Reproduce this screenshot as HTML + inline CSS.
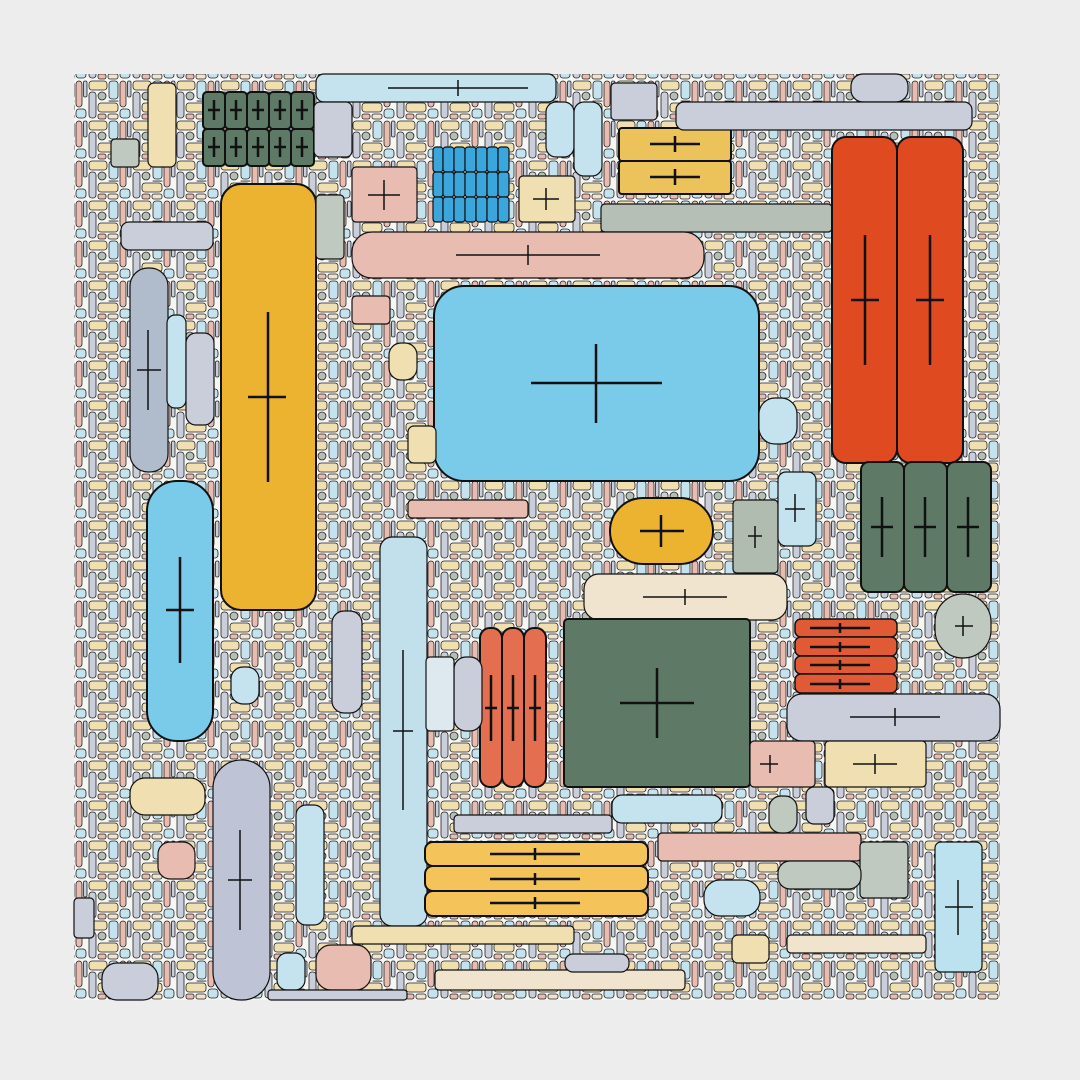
<!DOCTYPE html>
<html><head><style>html,body{margin:0;padding:0;background:#ededed}svg{display:block}</style></head><body>
<svg width="1080" height="1080" viewBox="0 0 1080 1080" xmlns="http://www.w3.org/2000/svg">
<defs>
<pattern id="p" width="44" height="40" patternUnits="userSpaceOnUse">
<rect width="44" height="40" fill="#f6f6f4"/>
<g stroke="#222" stroke-width="0.8">
<rect x="1" y="1" width="18" height="9" rx="3" fill="#f0dfb0"/>
<rect x="21" y="1" width="9" height="18" rx="3" fill="#c5e3ee"/>
<rect x="32" y="1" width="6" height="26" rx="3" fill="#e8bcb0"/>
<rect x="39.5" y="1" width="3.5" height="16" rx="1.5" fill="#c9ceda"/>
<rect x="1" y="12" width="7" height="26" rx="3" fill="#c9ceda"/>
<rect x="10" y="12" width="8" height="8" rx="4" fill="#b5bfb5"/>
<rect x="10" y="23" width="20" height="9" rx="3" fill="#f0dfb0"/>
<rect x="21" y="21" width="9" height="0.1" fill="none"/>
<rect x="32" y="29" width="10" height="9" rx="3" fill="#c5e3ee"/>
<rect x="10" y="34" width="8" height="5" rx="2" fill="#e8bcb0"/>
<rect x="20" y="34" width="10" height="5" rx="2" fill="#f1e4cf"/>
</g>
</pattern>
</defs>
<rect x="74" y="74" width="926" height="926" fill="url(#p)"/>
<g stroke="#111" stroke-width="2">
<g fill="#5e7a66">
<rect x="203" y="92" width="22" height="37" rx="4"/><rect x="225" y="92" width="22" height="37" rx="4"/><rect x="247" y="92" width="22" height="37" rx="4"/><rect x="269" y="92" width="22" height="37" rx="4"/><rect x="291" y="92" width="23" height="37" rx="4"/>
<rect x="203" y="129" width="22" height="37" rx="4"/><rect x="225" y="129" width="22" height="37" rx="4"/><rect x="247" y="129" width="22" height="37" rx="4"/><rect x="269" y="129" width="22" height="37" rx="4"/><rect x="291" y="129" width="23" height="37" rx="4"/>
</g>
<rect x="316" y="74" width="240" height="28" rx="8" fill="#c5e3ee" stroke-width="1.2"/>
<g fill="#3aa6dc" stroke-width="1.2">
<rect x="433" y="147" width="10" height="25" rx="3"/><rect x="443" y="147" width="11" height="25" rx="3"/><rect x="454" y="147" width="11" height="25" rx="3"/><rect x="465" y="147" width="11" height="25" rx="3"/><rect x="476" y="147" width="11" height="25" rx="3"/><rect x="487" y="147" width="11" height="25" rx="3"/><rect x="498" y="147" width="11" height="25" rx="3"/>
<rect x="433" y="172" width="10" height="25" rx="3"/><rect x="443" y="172" width="11" height="25" rx="3"/><rect x="454" y="172" width="11" height="25" rx="3"/><rect x="465" y="172" width="11" height="25" rx="3"/><rect x="476" y="172" width="11" height="25" rx="3"/><rect x="487" y="172" width="11" height="25" rx="3"/><rect x="498" y="172" width="11" height="25" rx="3"/>
<rect x="433" y="197" width="10" height="25" rx="3"/><rect x="443" y="197" width="11" height="25" rx="3"/><rect x="454" y="197" width="11" height="25" rx="3"/><rect x="465" y="197" width="11" height="25" rx="3"/><rect x="476" y="197" width="11" height="25" rx="3"/><rect x="487" y="197" width="11" height="25" rx="3"/><rect x="498" y="197" width="11" height="25" rx="3"/>
</g>
<rect x="619" y="128" width="112" height="33" rx="3" fill="#ecc35a"/>
<rect x="619" y="161" width="112" height="33" rx="3" fill="#ecc35a"/>
<rect x="352" y="167" width="65" height="55" rx="4" fill="#e8bcb0" stroke-width="1.2"/>
<rect x="519" y="176" width="56" height="46" rx="4" fill="#f0dfb0" stroke-width="1.2"/>
<rect x="601" y="204" width="231" height="28" rx="4" fill="#b5bfb5" stroke-width="1.2"/>
<rect x="352" y="232" width="352" height="46" rx="20" fill="#e8bcb0" stroke-width="1.2"/>
<rect x="434" y="286" width="325" height="195" rx="30" fill="#7acbe9"/>
<rect x="221" y="184" width="95" height="426" rx="20" fill="#ecb330"/>
<rect x="130" y="268" width="38" height="204" rx="18" fill="#b0bccb" stroke-width="1.2"/>
<rect x="167" y="315" width="19" height="93" rx="8" fill="#c5e3ee" stroke-width="1.2"/>
<rect x="186" y="333" width="28" height="92" rx="10" fill="#c9ceda" stroke-width="1.2"/>
<rect x="147" y="481" width="66" height="260" rx="30" fill="#7acbe9"/>
<rect x="832" y="137" width="65" height="326" rx="14" fill="#e04a20"/>
<rect x="897" y="137" width="66" height="326" rx="14" fill="#e04a20"/>
<rect x="861" y="462" width="43" height="130" rx="8" fill="#5e7a66"/>
<rect x="904" y="462" width="43" height="130" rx="8" fill="#5e7a66"/>
<rect x="947" y="462" width="44" height="130" rx="8" fill="#5e7a66"/>
<rect x="610" y="498" width="103" height="66" rx="33" fill="#ecb330"/>
<rect x="733" y="500" width="45" height="73" rx="4" fill="#b0bcb0" stroke-width="1.2"/>
<rect x="778" y="472" width="38" height="74" rx="8" fill="#c5e3ee" stroke-width="1.2"/>
<rect x="584" y="574" width="203" height="46" rx="15" fill="#f1e4cf" stroke-width="1.2"/>
<rect x="564" y="619" width="186" height="168" rx="4" fill="#5e7a66"/>
<rect x="480" y="628" width="22" height="159" rx="10" fill="#e36f50"/>
<rect x="502" y="628" width="22" height="159" rx="10" fill="#e36f50"/>
<rect x="524" y="628" width="22" height="159" rx="10" fill="#e36f50"/>
<g fill="#e05a35" stroke-width="1.5">
<rect x="795" y="619" width="102" height="18" rx="6"/><rect x="795" y="637" width="102" height="19" rx="6"/><rect x="795" y="656" width="102" height="18" rx="6"/><rect x="795" y="674" width="102" height="19" rx="6"/>
</g>
<rect x="787" y="694" width="213" height="47" rx="15" fill="#c9ceda" stroke-width="1.2"/>
<rect x="935" y="594" width="56" height="64" rx="28" fill="#c0c9c0" stroke-width="1.2"/>
<rect x="380" y="537" width="47" height="389" rx="12" fill="#c2e0eb" stroke-width="1.2"/>
<rect x="213" y="760" width="57" height="240" rx="28" fill="#bec3d5" stroke-width="1.2"/>
<g fill="#f4c35a">
<rect x="425" y="842" width="223" height="24" rx="8"/><rect x="425" y="866" width="223" height="25" rx="8"/><rect x="425" y="891" width="223" height="25" rx="8"/>
</g>
<g stroke-width="1.2">
<rect x="935" y="842" width="47" height="130" rx="6" fill="#bde2ef"/>
<rect x="825" y="741" width="101" height="46" rx="4" fill="#f0dfb0"/>
<rect x="658" y="833" width="203" height="28" rx="4" fill="#e8bcb0"/>
<rect x="130" y="778" width="75" height="37" rx="15" fill="#f0dfb0"/>
<rect x="332" y="611" width="30" height="102" rx="12" fill="#c9ceda"/>
<rect x="316" y="945" width="55" height="45" rx="15" fill="#e8bcb0"/>
<rect x="860" y="842" width="48" height="56" rx="4" fill="#c0c9c0"/>
<rect x="851" y="74" width="57" height="28" rx="12" fill="#c9ceda"/>
<rect x="676" y="102" width="296" height="28" rx="8" fill="#c9ceda"/>
<rect x="102" y="963" width="56" height="37" rx="15" fill="#c9ceda"/>
<rect x="296" y="805" width="28" height="120" rx="10" fill="#c5e3ee"/>
<rect x="435" y="970" width="250" height="20" rx="4" fill="#f1e4cf"/>
<rect x="612" y="795" width="110" height="28" rx="10" fill="#c5e3ee"/>
<rect x="704" y="880" width="56" height="36" rx="16" fill="#c5e3ee"/>
<rect x="778" y="861" width="83" height="28" rx="12" fill="#c0c9c0"/>
<rect x="148" y="83" width="28" height="84" rx="6" fill="#f0dfb0"/>
<rect x="314" y="102" width="38" height="55" rx="6" fill="#c9ceda"/>
<rect x="546" y="102" width="28" height="55" rx="10" fill="#c5e3ee"/>
<rect x="574" y="102" width="28" height="74" rx="10" fill="#c5e3ee"/>
<rect x="611" y="83" width="46" height="37" rx="4" fill="#c9ceda"/>
<rect x="316" y="195" width="28" height="64" rx="4" fill="#c0c9c0"/>
<rect x="111" y="139" width="28" height="28" rx="4" fill="#c0c9c0"/>
<rect x="121" y="222" width="92" height="28" rx="8" fill="#c9ceda"/>
<rect x="759" y="398" width="38" height="46" rx="16" fill="#c5e3ee"/>
<rect x="352" y="296" width="38" height="28" rx="4" fill="#e8bcb0"/>
<rect x="389" y="343" width="28" height="37" rx="12" fill="#f0dfb0"/>
<rect x="408" y="426" width="28" height="37" rx="6" fill="#f0dfb0"/>
<rect x="231" y="667" width="28" height="37" rx="12" fill="#c5e3ee"/>
<rect x="158" y="842" width="37" height="37" rx="12" fill="#e8bcb0"/>
<rect x="750" y="741" width="65" height="46" rx="4" fill="#e8bcb0"/>
<rect x="769" y="796" width="28" height="37" rx="12" fill="#c0c9c0"/>
<rect x="806" y="787" width="28" height="37" rx="8" fill="#c9ceda"/>
<rect x="454" y="657" width="28" height="74" rx="12" fill="#c9ceda"/>
<rect x="426" y="657" width="28" height="74" rx="4" fill="#dde9ee"/>
<rect x="454" y="815" width="158" height="18" rx="4" fill="#c9ceda"/>
<rect x="408" y="500" width="120" height="18" rx="4" fill="#e8bcb0"/>
<rect x="352" y="926" width="222" height="18" rx="4" fill="#f0dfb0"/>
<rect x="787" y="935" width="139" height="18" rx="4" fill="#f1e4cf"/>
<rect x="732" y="935" width="37" height="28" rx="6" fill="#f0dfb0"/>
<rect x="277" y="953" width="28" height="37" rx="10" fill="#c5e3ee"/>
<rect x="268" y="990" width="139" height="10" rx="3" fill="#c9ceda"/>
<rect x="74" y="898" width="20" height="40" rx="4" fill="#c9ceda"/>
<rect x="565" y="954" width="64" height="18" rx="8" fill="#c9ceda"/>
</g>
</g>
<g stroke="#111" stroke-width="2.5" fill="none">
<path d="M531 383h131M596 344v79"/>
<path d="M248 397h38M268 312v170"/>
<path d="M166 610h28M180 557v106"/>
<path d="M851 300h28M865 235v130M916 300h28M930 235v130"/>
<path d="M871 527h22M882 497v60M914 527h22M925 497v60M957 527h22M968 497v60"/>
<path d="M620 703h74M657 668v70"/>
<path d="M640 531h44M661 515v32"/>
<path d="M485 708h12M491 675v66M507 708h12M513 675v66M529 708h12M535 675v66"/>
<path d="M810 628h60M840 623v10M810 647h60M840 642v10M810 665h60M840 660v10M810 684h60M840 679v10"/>
<path d="M490 854h90M535 848v12M490 879h90M535 873v12M490 903h90M535 897v12"/>
<path d="M650 144h50M675 136v16M650 177h50M675 169v16"/>
<path d="M208 110h12M214 100v20M230 110h12M236 100v20M252 110h12M258 100v20M274 110h12M280 100v20M296 110h12M302 100v20M208 147h12M214 137v20M230 147h12M236 137v20M252 147h12M258 137v20M274 147h12M280 137v20M296 147h12M302 137v20"/>
</g>
<g stroke="#111" stroke-width="1.5" fill="none">
<path d="M456 255h144M528 245v20M850 717h90M895 708v18M393 731h20M403 650v160M228 880h24M240 830v100M137 370h24M148 330v80M643 597h84M685 589v16M853 764h44M875 754v20M945 907h28M958 880v55M368 195h32M384 180v30M533 199h26M546 188v22M388 88h140M458 80v16M753 750v0M760 764h18M770 755v18M955 626h18M963 616v20M748 536h14M755 526v22M785 509h20M795 494v28"/>
</g>
</svg>
</body></html>
